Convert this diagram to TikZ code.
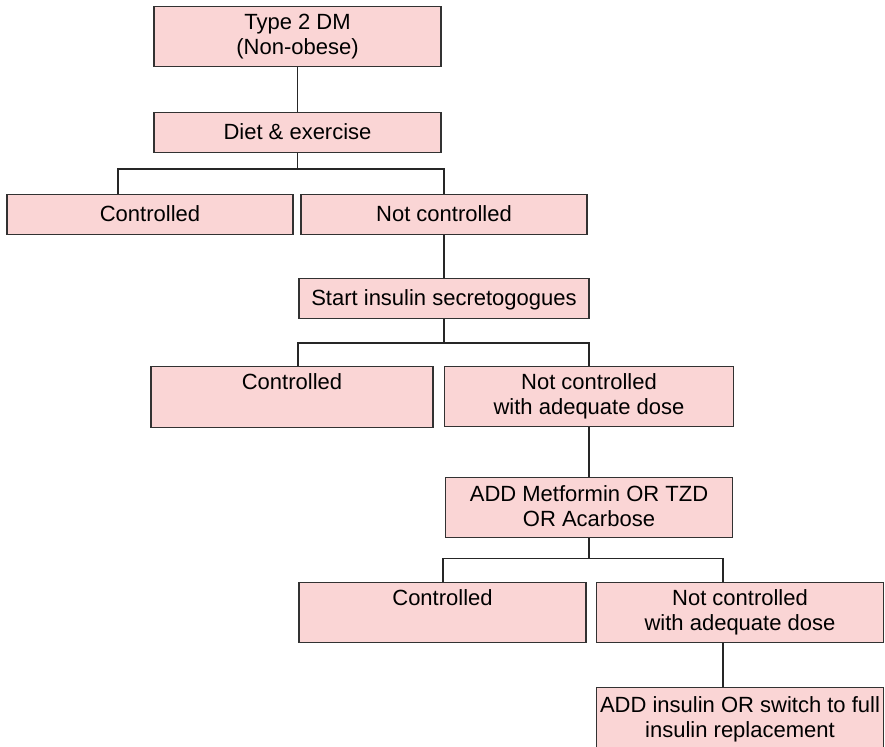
\documentclass[tikz,border=0pt]{standalone}
\usepackage{fontspec}
\setmainfont{Liberation Sans}
\definecolor{boxfill}{RGB}{250,213,213}
\definecolor{boxline}{RGB}{50,50,50}
\begin{document}
\begin{tikzpicture}[x=1pt,y=-1pt,
 box/.style={draw=boxline, fill=boxfill, line width=1.4pt, inner sep=0pt, anchor=north, align=center, font=\fontsize{22}{25}\selectfont},
 short/.style={box, text height=27pt, text depth=13pt},
 tall/.style={box, text height=23pt, text depth=37pt},
 tallii/.style={box, text height=48pt, text depth=12pt},
 link/.style={line width=1.3pt, draw=black!85}]
\useasboundingbox (0,0) rectangle (885,746);
\node[tallii, minimum width=287pt] (t2dm) at (297.5,6) {Type 2 DM\\(Non-obese)};
\node[short, minimum width=287pt] (diet) at (297.5,112) {Diet \& exercise};
\node[short, minimum width=286pt] (c1) at (150,194) {Controlled};
\node[short, minimum width=286pt] (nc1) at (444,194) {Not controlled};
\node[short, minimum width=290pt] (sis) at (444,278) {Start insulin secretogogues};
\node[tall, minimum width=282pt, text depth=38pt] (c2) at (292,366) {Controlled};
\node[tallii, minimum width=289pt] (nc2) at (589,366) {Not controlled\\with adequate dose};
\node[tallii, minimum width=287pt, text height=49pt, text depth=11pt] (add1) at (589,477) {ADD Metformin OR TZD\\OR Acarbose};
\node[tall, minimum width=287pt] (c3) at (442.5,582) {Controlled};
\node[tallii, minimum width=287pt] (nc3) at (740,582) {Not controlled\\with adequate dose};
\node[tallii, minimum width=287pt, text height=50pt, text depth=10pt] (add2) at (740,687) {ADD insulin OR switch to full\\insulin replacement};
\draw[link] (t2dm) -- (diet);
\coordinate (j1L) at (118,169);
\coordinate (j1R) at (444,169);
\draw[link] (diet.south) -- (diet.south |- j1L);
\draw[link] (j1L |- c1.north) -- (j1L) -- (j1R) -- (j1R |- nc1.north);
\draw[link] (nc1) -- (sis);
\coordinate (j2L) at (298,343);
\coordinate (j2R) at (589,343);
\draw[link] (sis.south) -- (sis.south |- j2L);
\draw[link] (j2L |- c2.north) -- (j2L) -- (j2R) -- (j2R |- nc2.north);
\draw[link] (nc2) -- (add1);
\coordinate (j3L) at (443,558.5);
\coordinate (j3R) at (723,558.5);
\draw[link] (add1.south) -- (add1.south |- j3L);
\draw[link] (j3L |- c3.north) -- (j3L) -- (j3R) -- (j3R |- nc3.north);
\draw[link] (nc3.south -| j3R) -- (add2.north -| j3R);
\end{tikzpicture}
\end{document}
